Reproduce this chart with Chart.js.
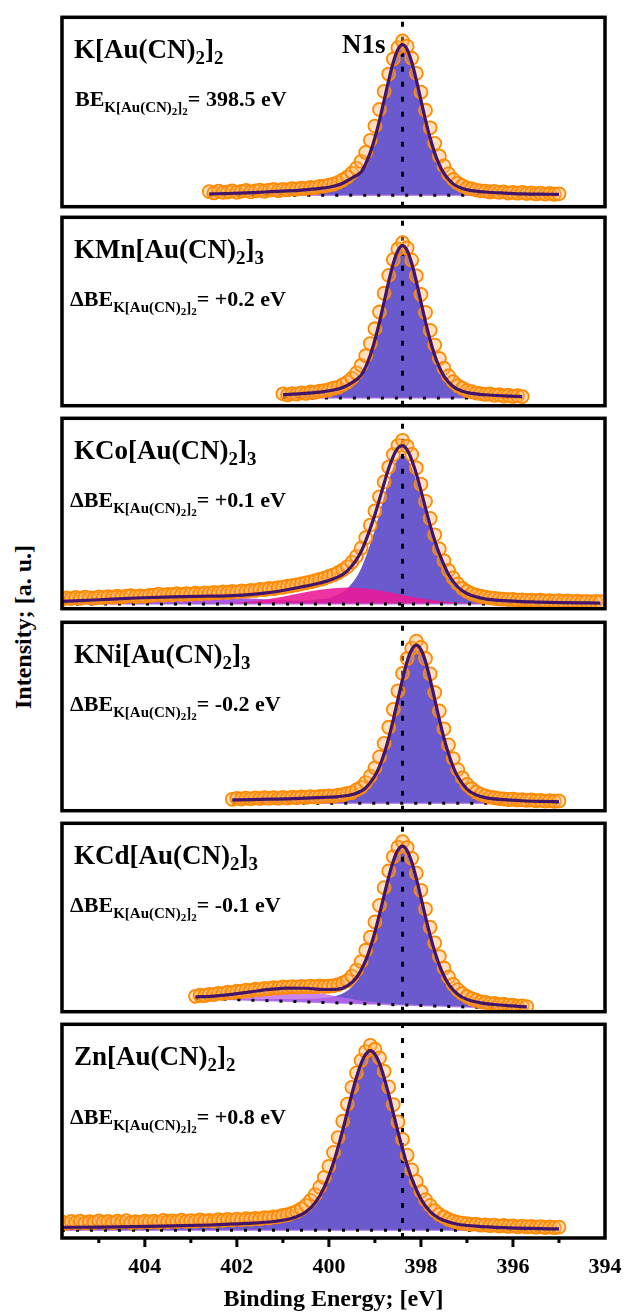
<!DOCTYPE html>
<html>
<head>
<meta charset="utf-8">
<script src="https://cdn.jsdelivr.net/npm/chart.js@4.4.0/dist/chart.umd.min.js"></script>
<style>
  body { margin: 0; width: 626px; height: 1314px; position: relative; overflow: hidden; background: #fff;
         font-family: "Liberation Serif", "Times New Roman", serif; font-weight: bold; color: #000; }
  canvas { position: absolute; }
  .lbl { position: absolute; white-space: nowrap; line-height: 1; transform: translateY(-50%); }
  .name { font-size: 27px; }
  .shift { font-size: 22px; }
  sub { font-size: 0.7em; vertical-align: baseline; position: relative; top: 0.34em; }
  .shift sub { font-size: 15px; top: 0.4em; }
  .shift sub sub { font-size: 11px; top: 0.3em; }
  #ytitle { position: absolute; left: 23px; top: 627px; font-size: 24px; white-space: nowrap;
            transform: translate(-50%, -50%) rotate(-90deg); }
</style>
</head>
<body>
<div id="ytitle">Intensity; [a. u.]</div>
<script>
// ---- data (binding energy in eV, intensity normalised to main N1s component = 100) ----
const expStep = 0.1;
const refBE = 398.4;
const xMin = 394, xMax = 405.8;
const xTicks = [404, 402, 400, 398, 396, 394];

const refName = 'K[Au(CN)<sub>2</sub>]<sub>2</sub>';
const compounds = ['K[Au(CN)<sub>2</sub>]<sub>2</sub>', 'KMn[Au(CN)<sub>2</sub>]<sub>3</sub>', 'KCo[Au(CN)<sub>2</sub>]<sub>3</sub>',
                   'KNi[Au(CN)<sub>2</sub>]<sub>3</sub>', 'KCd[Au(CN)<sub>2</sub>]<sub>3</sub>', 'Zn[Au(CN)<sub>2</sub>]<sub>2</sub>'];
const shiftPrefix = ['BE', 'ΔBE', 'ΔBE', 'ΔBE', 'ΔBE', 'ΔBE'];
const shiftValues = ['398.5 eV', '+0.2 eV', '+0.1 eV', '-0.2 eV', '-0.1 eV', '+0.8 eV'];

// K[Au(CN)2]2
const p1ExpStart = 402.6;
const p1Exp = [2.5,1.6,2.8,1.9,2.2,3.0,2.0,2.6,3.2,2.3, 2.9,3.5,2.7,3.4,3.9,3.1,4.0,3.6,4.4,4.1,
  4.8,4.5,5.2,5.0,5.9,6.1,6.8,7.4,8.6,10.2, 12.1,14.8,18.0,22.5,28.5,36.5,46.0,57.0,69.0,80.5,
  90.5,98.0,102.5,99.0,91.0,81.0,68.5,56.5,44.8,34.5, 26.0,19.5,14.2,10.6,8.0,6.4,5.0,4.3,3.5,3.0,
  2.8,2.2,2.6,1.9,2.3,1.5,2.0,1.4,1.9,1.2, 1.6,0.9,1.5,0.8,1.3,0.7,1.0];
const p1FitE = [402.6,402.2,401.8,401.4,401.0,400.6,400.2,399.9,399.7,399.5,399.3,399.2,399.1,399.0,398.9,
  398.8,398.7,398.6,398.5,398.4,398.3,398.2,398.1,398.0,397.9,397.8,397.7,397.6,397.5,397.3,397.1,396.9,396.6,
  396.2,395.8,395.4,395.0];
const p1Fit = [1.0,1.2,1.6,2.2,2.8,3.5,4.6,6.0,8.0,11.5,15.5,21.0,28.5,38.3,50.0,63.0,76.5,88.5,96.9,100,
  96.9,88.5,76.6,63.2,50.0,38.1,28.1,20.3,14.5,7.6,4.5,3.1,2.2,1.5,1.0,0.8,0.6];
const p1BgE = [402.6, 395.0];
const p1Bg = [0, 0];

// KMn[Au(CN)2]3
const p2ExpStart = 401.0;
const p2Exp = [2.8,2.1,3.0,2.6,3.5,3.1,4.0,3.8,4.6,4.9, 5.5,6.5,7.2,8.8,10.5,13.0,16.5,21.5,27.8,35.8,
  45.5,56.5,68.8,80.5,90.8,97.8,102.0,98.5,90.5,80.2, 68.0,56.2,44.5,34.8,26.0,19.6,14.5,10.8,8.1,6.5,
  5.0,4.2,3.3,3.0,2.4,2.7,1.8,2.2,1.4,1.9, 1.1,1.6,1.0];
const p2FitE = [401.0,400.6,400.2,399.9,399.7,399.5,399.3,399.2,399.1,399.0,398.9,398.8,398.7,398.6,398.5,
  398.4,398.3,398.2,398.1,398.0,397.9,397.8,397.7,397.6,397.5,397.3,397.1,396.9,396.6,396.2,395.8];
const p2Fit = [2.3,2.9,3.9,5.3,7.0,10.2,15.0,20.5,28.3,38.2,50.0,63.2,76.6,88.5,96.9,100,96.9,88.5,76.6,
  63.2,50.0,38.1,28.1,20.3,14.5,7.6,4.5,3.1,2.2,1.5,1.0];
const p2BgE = [401.0, 395.8];
const p2Bg = [0, 0];

// KCo[Au(CN)2]3
const p3ExpStart = 405.8;
const p3Exp = [3.2,4.0,3.6,4.4,3.8,4.6,4.1,3.9,4.7,4.3, 5.0,4.5,5.2,4.7,5.3,5.6,5.0,5.5,5.1,5.8,
  6.0,6.6,5.8,6.5,6.2,6.9,6.3,7.0,6.6,7.2, 6.8,7.5,7.1,7.8,7.4,8.1,7.7,8.4,8.0,8.8,
  8.5,9.2,9.0,9.8,9.6,10.4,10.3,11.0,11.2,11.9, 12.3,12.9,13.5,14.2,14.8,15.6,16.5,17.3,18.5,19.6,
  21.0,22.8,25.0,28.0,32.0,37.5,44.5,53.0,62.5,72.0, 82.0,92.0,100.5,106.5,110.0,106.0,100.5,91.5,80.5,69.0,
  57.5,46.5,37.0,29.0,22.5,17.5,13.5,10.5,8.5,7.0, 6.0,5.2,4.6,4.1,3.8,3.4,3.2,2.9,3.1,2.6,
  2.8,2.4,2.6,2.2,2.5,2.0,2.3,1.9,2.2,1.7, 2.0,1.6,1.9,1.5,1.8,1.4,1.7,1.5];
const p3E = [405.8,405.0,404.2,403.4,402.6,402.2,401.8,401.4,401.0,400.6,400.2,399.9,399.6,399.3,399.0,
  398.9,398.8,398.7,398.6,398.5,398.4,398.3,398.2,398.1,398.0,397.9,397.8,397.7,397.6,397.4,397.2,397.0,
  396.6,396.2,395.6,395.0,394.1];
const p3Blue = [0.2,0.25,0.32,0.43,0.6,0.7,0.85,1.15,1.55,2.1,3.1,5.1,10.4,23.9,50.0,60.9,72.2,82.9,91.7,
  97.8,100,97.8,91.7,82.9,72.2,60.9,50.0,40.1,31.6,18.2,10.4,6.3,3.1,2.1,1.35,0.9,0.57];
const p3Pink = [0,0,0,0,0.27,0.69,1.5,2.9,4.9,7.3,9.5,10.6,11.0,10.6,9.5,9.0,8.5,7.9,7.3,6.7,6.1,5.5,4.9,
  4.4,3.85,3.4,2.9,2.5,2.1,1.5,1.0,0.69,0.27,0.08,0,0,0];
const p3Violet = [1.54,2.6,3.7,4.4,4.4,4.1,3.7,3.2,2.6,2.0,1.54,1.2,0.92,0.69,0.5,0.46,0.42,0.38,0.34,0.31,
  0.25,0.22,0.2,0.18,0.15,0.13,0.11,0.1,0.08,0.06,0.04,0.03,0.01,0,0,0,0];
const p3Fit = [1.74,2.85,4.0,4.83,5.27,5.49,6.05,7.25,9.05,11.4,14.1,16.9,22.3,35.2,60.0,70.4,81.1,91.2,
  99.3,104.8,106.4,103.5,96.8,87.5,76.2,64.4,53.0,42.7,33.8,19.8,11.4,7.0,3.4,2.2,1.35,0.9,0.57];
const p3BgE = [405.8, 394.0];
const p3Bg = [0, 0];

// KNi[Au(CN)2]3
const p4ExpStart = 402.1;
const p4Exp = [2.4,3.0,2.6,3.2,2.7,3.3,2.9,3.4,3.0,3.5, 3.0,3.6,3.2,3.8,3.4,3.9,3.6,4.1,3.8,4.2,
  4.3,4.6,4.4,5.1,5.3,6.2,6.7,8.4,10.0,13.0, 17.0,22.3,29.2,37.8,48.0,59.3,71.0,82.0,91.5,98.0,
  102.5, 98.5,91.5,81.8,70.0,58.3,47.0,36.8,28.2,21.2,16.0, 11.8,9.2,7.0,5.6,4.6,3.8,3.4,2.9,2.7,2.3,
  2.5,2.0,2.2,1.7,2.0,1.5,1.8,1.3,1.6,1.2,1.4];
const p4FitE = [402.1,401.7,401.3,400.9,400.5,400.1,399.8,399.6,399.4,399.2,399.0,398.9,398.8,398.7,398.6,
  398.5,398.4,398.3,398.2,398.1,398.0,397.9,397.8,397.7,397.6,397.5,397.4,397.3,397.2,397.0,396.8,396.6,
  396.2,395.8,395.4,395.0];
const p4Fit = [2.0,2.2,2.5,2.75,3.2,3.65,4.15,4.8,6.2,9.7,17.3,23.3,31.2,41.3,53.0,65.8,78.3,89.6,97.1,100,
  97.1,89.6,78.3,65.8,53.0,41.3,31.2,23.0,16.8,8.9,5.2,3.5,2.2,1.5,1.1,0.85];
const p4BgE = [402.1, 395.0];
const p4Bg = [0, 0];

// KCd[Au(CN)2]3 (sloped background)
const p5ExpStart = 402.9;
const p5Exp = [7.9,8.6,8.3,9.2,9.0,9.8,9.6,10.5,10.3,11.1, 11.0,11.8,11.6,12.4,12.2,12.9,12.7,13.4,13.1,13.8,
  13.5,14.0,13.7,14.2,13.9,14.3,14.0,14.5,14.1,14.4, 14.6,15.3,16.4,17.8,20.6,24.5,29.8,37.0,45.2,54.8,
  65.3,76.5,87.0,96.0,102.0,105.5,101.8,95.0,85.6,74.8, 63.0,51.5,41.6,33.0,25.8,20.0,15.4,12.1,9.6,7.8,
  6.4,5.5,4.4,4.1,3.3,3.4,2.7,2.9,2.2,2.4, 1.7,1.9,1.4];
const p5E = [402.9,402.5,402.1,401.7,401.3,400.9,400.5,400.1,399.8,399.6,399.4,399.2,399.1,399.0,398.9,
  398.8,398.7,398.6,398.5,398.4,398.3,398.2,398.1,398.0,397.9,397.8,397.7,397.6,397.5,397.4,397.2,397.0,
  396.7,396.4,396.0,395.7];
const p5Bg = [6.6,6.23,5.87,5.5,5.13,4.77,4.4,4.03,3.76,3.58,3.39,3.21,3.12,3.03,2.93,2.84,2.75,2.66,2.57,
  2.48,2.38,2.29,2.2,2.11,2.02,1.93,1.83,1.74,1.65,1.56,1.38,1.19,0.92,0.64,0.28,0];
const p5Blue = [7.05,6.75,6.52,6.3,6.18,6.17,6.35,6.93,8.56,11.48,17.49,29.01,37.42,47.43,58.83,70.94,82.75,
  92.86,99.87,102.48,99.68,92.49,82.2,70.21,57.92,46.33,36.13,27.54,20.85,15.66,9.28,5.99,3.82,2.74,1.83,1.2];
const p5Violet = [7.16,7.57,8.53,9.9,11.2,11.75,11.05,9.32,7.71,6.65,5.67,4.82,4.46,4.12,3.82,3.55,3.31,3.1,
  2.91,2.74,2.58,2.44,2.31,2.19,2.08,1.97,1.86,1.76,1.65,1.56,1.38,1.19,0.92,0.64,0.28,0];
const p5Fit = [7.61,8.09,9.18,10.7,12.25,13.15,13.0,12.22,12.51,14.55,19.77,30.62,38.76,48.52,59.72,71.65,
  83.31,93.3,100.21,102.74,99.88,92.64,82.31,70.29,57.98,46.37,36.16,27.56,20.85,15.66,9.28,5.99,3.82,2.74,1.83,1.2];

// Zn[Au(CN)2]2
const p6ExpStart = 405.8;
const p6Exp = [4.6,3.8,4.9,4.2,5.1,4.0,4.7,4.3,5.2,4.4, 4.9,4.1,5.0,4.5,5.3,4.2,4.8,4.4,5.1,4.6,
  5.0,4.4,5.4,4.7,5.2,4.8,5.6,4.9,5.3,5.0, 5.7,5.2,5.5,5.1,5.9,5.4,6.0,5.6,6.2,5.8,
  6.4,6.1,6.6,6.3,7.0,6.8,7.4,7.6,8.2,8.6, 9.5,10.4,11.9,13.8,16.6,19.8,24.0,29.4,35.6,43.3,
  51.6,60.7,70.2,79.6,87.6,94.5,99.5, 103.0,
  100.8,96.0,88.5,79.8,70.0,60.3,50.6,41.8,33.6,27.2, 21.5,17.0,13.8,10.9,8.8,7.3,6.0,5.1,4.4,3.9,
  3.6,3.2,3.4,2.8,3.0,2.5,2.8,2.3,2.6,2.1, 2.4,1.9,2.3,1.8,2.1,1.6,2.0,1.5,1.8,1.4,1.7];
const p6FitE = [405.8,405.0,404.2,403.4,402.6,401.8,401.2,400.8,400.5,400.3,400.1,399.9,399.8,399.7,399.6,
  399.5,399.4,399.3,399.2,399.1,399.0,398.9,398.8,398.7,398.6,398.5,398.4,398.3,398.2,398.0,397.8,397.6,
  397.2,396.8,396.2,395.6,395.0];
const p6Fit = [1.6,1.75,2.0,2.35,2.9,3.8,4.85,6.6,10.2,15.2,24.0,37.7,46.3,55.7,65.8,76.0,85.2,92.9,98.0,100,
  98.0,92.9,85.0,75.6,65.2,54.9,45.3,36.5,28.85,17.4,10.4,6.6,3.3,2.3,1.45,0.98,0.7];
const p6BgE = [405.8, 395.0];
const p6Bg = [0, 0];

// ---- styles / layout ----
const BLUE = '#6a5acd', PINK = 'rgba(236, 24, 150, 0.88)', VIOLET = 'rgba(165, 70, 228, 0.9)', ORCHID = 'rgba(190, 104, 236, 0.8)';
const FIT = '#42156a';
const pageW = 626, pageH = 1314;
const frameLeft = 62, frameRight = 605, PAD = 3;
const frames = [
  {top: 12, bottom: 212, yMin: -7.55, yMax: 118.2},
  {top: 212, bottom: 411, yMin: -4.97, yMax: 118.6},
  {top: 413, bottom: 614, yMin: -3.18, yMax: 124.8},
  {top: 617, bottom: 816, yMin: -4.79, yMax: 114.4},
  {top: 818, bottom: 1017, yMin: -1.79, yMax: 117.1},
  {top: 1019, bottom: 1238, yMin: -4.35, yMax: 114.7}
];

const panels = [
  {start: p1ExpStart, exp: p1Exp, fitE: p1FitE, fit: p1Fit, bgE: p1BgE, bg: p1Bg,
   comps: [{e: p1FitE, v: p1Fit, color: BLUE}]},
  {start: p2ExpStart, exp: p2Exp, fitE: p2FitE, fit: p2Fit, bgE: p2BgE, bg: p2Bg,
   comps: [{e: p2FitE, v: p2Fit, color: BLUE}]},
  {start: p3ExpStart, exp: p3Exp, fitE: p3E, fit: p3Fit, bgE: p3BgE, bg: p3Bg,
   comps: [{e: p3E, v: p3Pink, color: PINK}, {e: p3E, v: p3Blue, color: BLUE}, {e: p3E, v: p3Violet, color: VIOLET}]},
  {start: p4ExpStart, exp: p4Exp, fitE: p4FitE, fit: p4Fit, bgE: p4BgE, bg: p4Bg,
   comps: [{e: p4FitE, v: p4Fit, color: BLUE}]},
  {start: p5ExpStart, exp: p5Exp, fitE: p5E, fit: p5Fit, bgE: p5E, bg: p5Bg, fillToBg: true,
   comps: [{e: p5E, v: p5Violet, color: ORCHID}, {e: p5E, v: p5Blue, color: BLUE}]},
  {start: p6ExpStart, exp: p6Exp, fitE: p6FitE, fit: p6Fit, bgE: p6BgE, bg: p6Bg,
   comps: [{e: p6FitE, v: p6Fit, color: BLUE}]}
];

Chart.defaults.font.family = '"Liberation Serif", "Times New Roman", serif';
Chart.defaults.color = '#000';

const pts = (es, vs) => es.map((e, i) => ({x: e, y: vs[i]}));
const expPts = (start, vs) => vs.map((v, i) => ({x: +(start - i * expStep).toFixed(2), y: v}));

const framePlugin = {
  id: 'frame',
  afterDraw(chart) {
    const {ctx, chartArea: a} = chart;
    ctx.save();
    ctx.strokeStyle = '#000';
    ctx.lineWidth = 3.5;
    ctx.strokeRect(a.left, a.top, a.right - a.left, a.bottom - a.top);
    const xs = chart.scales.x;
    if (xs.options.display) {
      ctx.lineWidth = 3;
      for (let v = xMin + 1; v < xMax; v++) {
        const px = xs.getPixelForValue(v);
        const len = v % 2 === 0 ? 9 : 5;
        ctx.beginPath();
        ctx.moveTo(px, a.bottom);
        ctx.lineTo(px, a.bottom + len);
        ctx.stroke();
      }
    }
    ctx.restore();
  }
};

panels.forEach((p, k) => {
  const f = frames[k];
  const last = k === panels.length - 1;
  const top = f.top - PAD;
  const h = last ? pageH - top : f.bottom - f.top + 2 * PAD;
  const c = document.createElement('canvas');
  c.width = pageW;
  c.height = h;
  c.style.left = '0px';
  c.style.top = top + 'px';
  document.body.appendChild(c);

  const datasets = [
    {data: pts(p.fitE, p.fit), borderColor: FIT, borderWidth: 3.2, pointRadius: 0,
     cubicInterpolationMode: 'monotone', fill: false, order: 0},
    {data: expPts(p.start, p.exp), showLine: false, pointRadius: 6.5, pointBorderWidth: 1.8,
     pointBorderColor: '#ff8a00', pointBackgroundColor: 'rgba(255, 178, 95, 0.42)', order: 1},
    {data: [{x: refBE, y: f.yMin}, {x: refBE, y: f.yMax}], borderColor: '#000', borderWidth: 3,
     borderDash: [5, 10], pointRadius: 0, fill: false, order: 2},
    {data: pts(p.bgE, p.bg), borderColor: '#000', borderWidth: 3, borderDash: [3, 11],
     pointRadius: 0, fill: false, order: 3},
    {data: pts(p.bgE, p.bg), borderColor: 'rgba(176, 110, 240, 0.75)', borderWidth: 1.5,
     pointRadius: 0, fill: false, order: 4}
  ];
  p.comps.forEach((cp, j) => {
    datasets.push({data: pts(cp.e, cp.v), borderWidth: 0, borderColor: 'rgba(0,0,0,0)',
      backgroundColor: cp.color, pointRadius: 0, cubicInterpolationMode: 'monotone',
      fill: p.fillToBg ? 3 : 'origin', order: 5 + j});
  });

  const xScale = {
    type: 'linear', min: xMin, max: xMax, reverse: true, display: last,
    grid: {display: false, drawTicks: false}, border: {display: false},
    ticks: {stepSize: 1, includeBounds: false, autoSkip: false, maxRotation: 0, minRotation: 0, padding: 16,
            font: {size: 22, weight: 'bold'},
            callback: v => (xTicks.includes(v) ? String(v) : '')},
    title: {display: true, text: 'Binding Energy; [eV]', font: {size: 24, weight: 'bold'},
            padding: {top: 0, bottom: 0}}
  };
  if (last) {
    xScale.afterFit = s => { s.height = pageH - f.bottom; s.paddingLeft = 0; s.paddingRight = 0; };
  }

  new Chart(c, {
    type: 'line',
    data: {datasets},
    options: {
      responsive: false,
      animation: false,
      events: [],
      layout: {padding: {top: PAD, left: frameLeft, right: pageW - frameRight, bottom: last ? 0 : PAD}},
      plugins: {legend: {display: false}, tooltip: {enabled: false}},
      scales: {
        x: xScale,
        y: {type: 'linear', min: f.yMin, max: f.yMax, display: false}
      }
    },
    plugins: [framePlugin]
  });

  const name = document.createElement('div');
  name.className = 'lbl name';
  name.style.left = '74px';
  name.style.top = (f.top + 37) + 'px';
  name.innerHTML = compounds[k];
  document.body.appendChild(name);

  const sh = document.createElement('div');
  sh.className = 'lbl shift';
  sh.style.left = (k === 0 ? 75 : 70) + 'px';
  sh.style.top = (f.top + (last ? 98 : 87)) + 'px';
  sh.innerHTML = shiftPrefix[k] + '<sub>' + refName + '</sub>= ' + shiftValues[k];
  document.body.appendChild(sh);
});

const n1s = document.createElement('div');
n1s.className = 'lbl name';
n1s.style.left = '342px';
n1s.style.top = '44px';
n1s.textContent = 'N1s';
document.body.appendChild(n1s);
</script>
</body>
</html>
